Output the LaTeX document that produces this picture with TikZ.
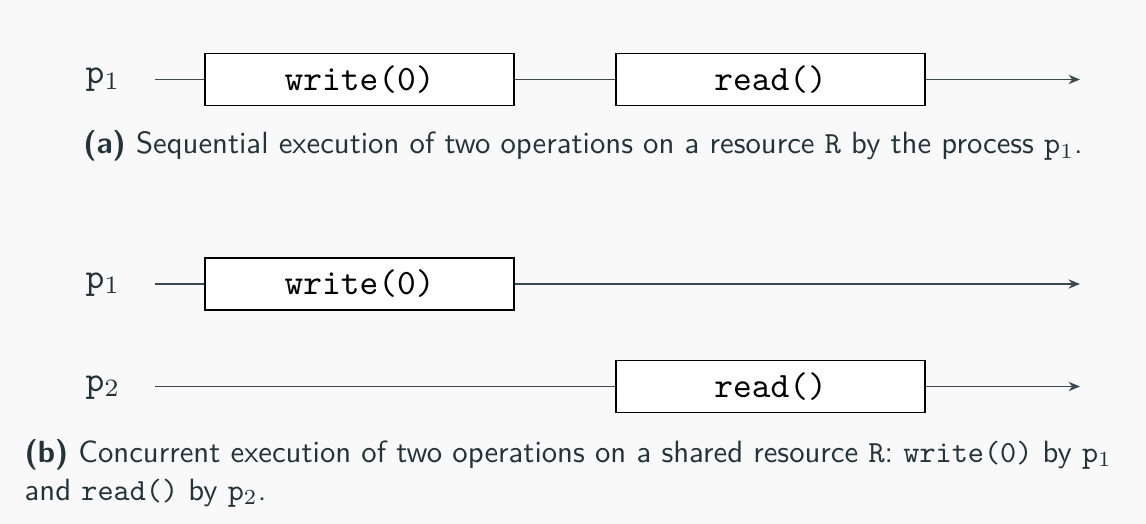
\documentclass[tikz,border=0pt]{standalone}
\usetikzlibrary{arrows.meta}
\definecolor{bgc}{HTML}{F9F9F9}
\definecolor{inkc}{HTML}{22333A}
\definecolor{wirec}{HTML}{3A4A50}
\newcommand{\capscale}[1]{\scalebox{0.86}{\fontsize{10}{12.37}\selectfont\begin{tabular}[b]{@{}l@{}}#1\end{tabular}}}
\begin{document}
\begin{tikzpicture}[x=0.28pt,y=-0.28pt,
  opbox/.style={draw=black, fill=white, line width=0.45pt, minimum width=86.5pt,
    minimum height=14.6pt, inner sep=0pt, font=\ttfamily, text=black},
  proc/.style={font=\ttfamily, text=inkc, inner sep=0pt, anchor=base west},
  wire/.style={draw=wirec, line width=0.45pt},
  arrowwire/.style={wire, -{Stealth[length=3.2pt,width=2.6pt]}},
  captext/.style={font=\sffamily, text=inkc, inner sep=0pt, anchor=base west}]
\fill[bgc] (0,0) rectangle (1146,524);
\useasboundingbox (0,0) rectangle (1146,524);

% (a) sequential
\node[proc] (la) at (85,84) {p$_1$};
\node[opbox] (wa) at (359.5,79.5) {write(0)};
\node[opbox] (ra) at (770.5,79.5) {read()};
\coordinate (sa) at (155,79.5);
\coordinate (ea) at (1080,79.5);
\draw[wire] (sa) -- (wa.west);
\draw[wire] (wa.east) -- (ra.west);
\draw[arrowwire] (ra.east) -- (ea);
\node[captext] (capa) at (82.7,154) {\capscale{\textbf{(a)} Sequential execution of two operations on a resource \texttt{R} by the process \texttt{p}$_1$.}};

% (b) concurrent
\node[proc] (lb1) at (85,288.5) {p$_1$};
\node[opbox] (wb) at (359.5,284) {write(0)};
\coordinate (sb1) at (155,284);
\coordinate (eb1) at (1080,284);
\draw[wire] (sb1) -- (wb.west);
\draw[arrowwire] (wb.east) -- (eb1);

\node[proc] (lb2) at (85,391) {p$_2$};
\node[opbox] (rb) at (770.5,386.5) {read()};
\coordinate (sb2) at (155,386.5);
\coordinate (eb2) at (1080,386.5);
\draw[wire] (sb2) -- (rb.west);
\draw[arrowwire] (rb.east) -- (eb2);

\node[captext] (capb) at (24,500) {\capscale{\textbf{(b)} Concurrent execution of two operations on a shared resource \texttt{R}: \texttt{write(0)} by \texttt{p}$_1$\\
and \texttt{read()} by \texttt{p}$_2$.}};
\end{tikzpicture}
\end{document}
